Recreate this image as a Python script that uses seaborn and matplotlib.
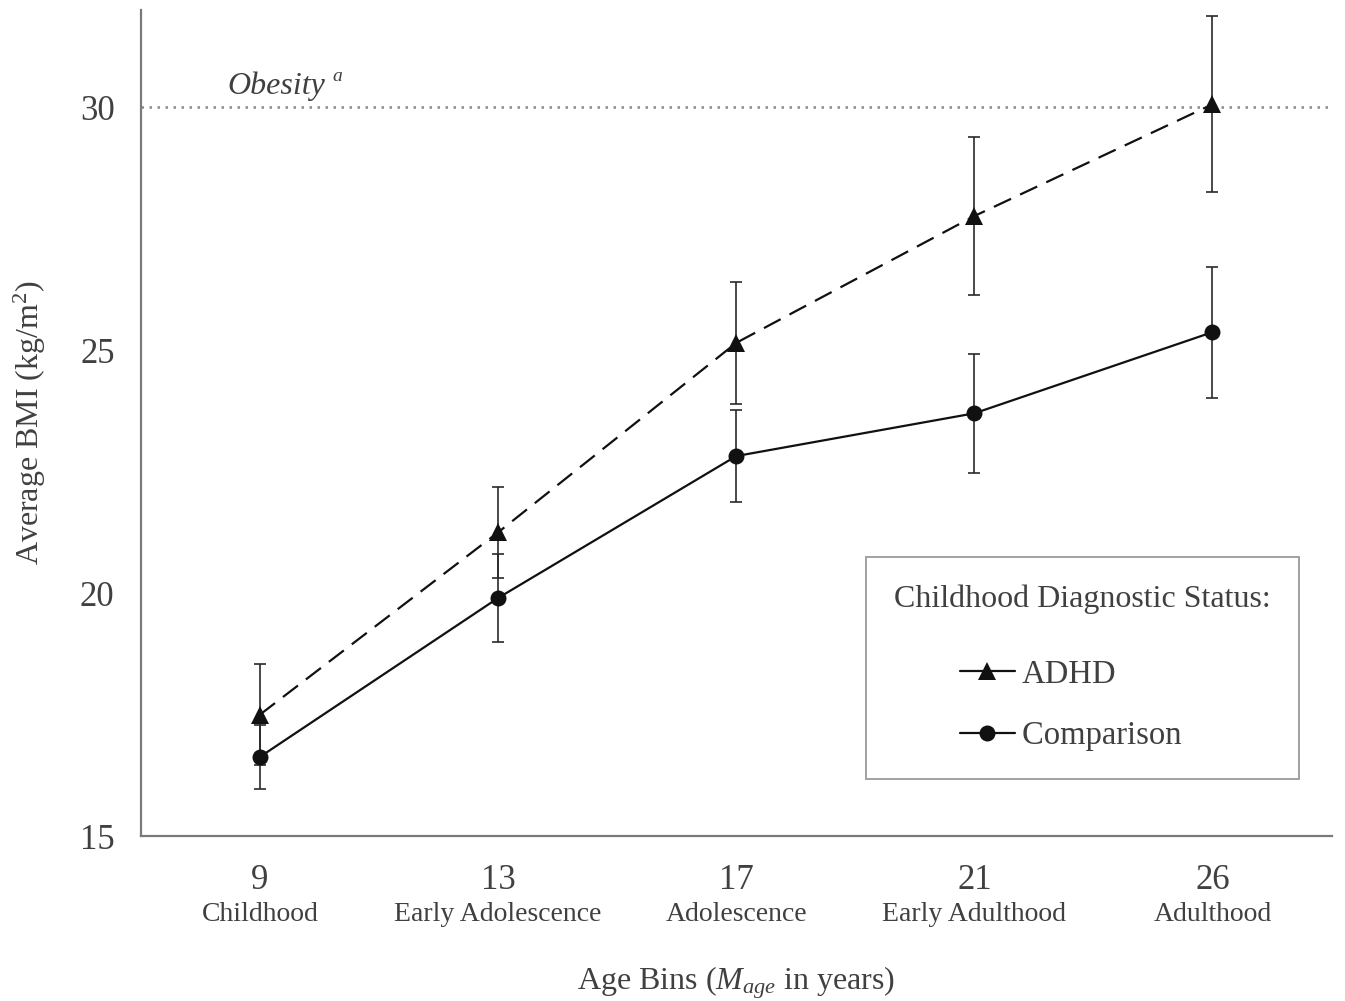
import numpy as np
import pandas as pd
import matplotlib
matplotlib.use('Agg')
import matplotlib.pyplot as plt
import matplotlib.transforms as mtransforms
from matplotlib.lines import Line2D
import seaborn as sns

# Data
ages = ['9', '13', '17', '21', '26']
stages = ['Childhood', 'Early Adolescence', 'Adolescence', 'Early Adulthood', 'Adulthood']
adhd_bmi = [17.5, 21.25, 25.15, 27.76, 30.06]
adhd_err = [1.04, 0.93, 1.26, 1.62, 1.81]
comp_bmi = [16.63, 19.9, 22.82, 23.7, 25.37]
comp_err = [0.66, 0.91, 0.94, 1.23, 1.35]
obesity_cut = 30

sns.set_theme(style='white')
plt.rcParams['font.family'] = ['Liberation Serif', 'DejaVu Serif']
plt.rcParams['mathtext.fontset'] = 'custom'
plt.rcParams['mathtext.rm'] = 'Liberation Serif'
plt.rcParams['mathtext.it'] = 'Liberation Serif:italic'

text_col = '#404040'
ink = '#111111'

df = pd.DataFrame({
    'pos': list(range(len(ages))) * 2,
    'bmi': adhd_bmi + comp_bmi,
    'err': adhd_err + comp_err,
    'group': ['ADHD'] * len(ages) + ['Comparison'] * len(ages),
})

fig = plt.figure(figsize=(13.45, 10.01), dpi=100)
ax = fig.add_axes([0.1048, 0.1648, 0.8852, 0.8252])

# obesity reference line + label
ax.axhline(obesity_cut, color='#8a8a8a', lw=1.8, ls=(0, (1, 2.2)), zorder=1)
ax.text(-0.135, obesity_cut + 0.12, 'Obesity', fontstyle='italic',
        fontsize=23, color=text_col, ha='left', va='bottom')
ax.text(0.305, obesity_cut + 0.45, 'a', fontstyle='italic',
        fontsize=14, color=text_col, ha='left', va='bottom')

# error bars
for g in ['ADHD', 'Comparison']:
    sub = df[df['group'] == g]
    ax.errorbar(sub['pos'], sub['bmi'], yerr=sub['err'], fmt='none',
                ecolor='#2a2a2a', elinewidth=1.2, capsize=4.3, capthick=1.2, zorder=2)

sns.lineplot(data=df, x='pos', y='bmi', hue='group', style='group',
             palette={'ADHD': ink, 'Comparison': ink},
             markers={'ADHD': '^', 'Comparison': 'o'},
             dashes={'ADHD': (8.5, 4.5), 'Comparison': ''},
             markersize=13, markeredgewidth=0, linewidth=1.6, ax=ax,
             legend=False, zorder=3)
for ln in ax.lines:
    if ln.get_marker() == 'o':
        ln.set_markersize(11.5)

ax.set_xlim(-0.5, 4.5)
ax.set_ylim(15, 32.0)
ax.set_yticks([15, 20, 25, 30])
ax.set_yticklabels(['15', '20', '25', '30'], fontsize=25, color=text_col)
ax.set_xticks(range(len(ages)))
ax.set_xticklabels(ages, fontsize=25, color=text_col)
ax.tick_params(axis='y', length=0, pad=19)
ax.tick_params(axis='x', length=0, pad=20)

trans = mtransforms.blended_transform_factory(ax.transData, ax.transAxes)
for i, s in enumerate(stages):
    ax.text(i, -0.080, s, transform=trans, ha='center', va='top',
            fontsize=20, color=text_col)

for side in ['top', 'right']:
    ax.spines[side].set_visible(False)
for side in ['left', 'bottom']:
    ax.spines[side].set_color('#7a7a7a')
    ax.spines[side].set_linewidth(1.6)

ax.set_xlabel('Age Bins ($M_{age}$ in years)', fontsize=23, color=text_col, labelpad=49)
ax.set_ylabel('Average BMI (kg/m$^2$)', fontsize=23, color=text_col, labelpad=23)

handles = [
    Line2D([], [], color=ink, lw=1.6, marker='^', markersize=13, markeredgewidth=0),
    Line2D([], [], color=ink, lw=1.6, marker='o', markersize=11.5, markeredgewidth=0),
]
leg = ax.legend(handles, ['ADHD', 'Comparison   '], title='Childhood Diagnostic Status:',
                loc='lower right', bbox_to_anchor=(0.9723, 0.069), borderaxespad=0,
                fontsize=23.5, title_fontsize=23, frameon=True, fancybox=False,
                handlelength=1.7, handletextpad=0.2, labelspacing=0.95, borderpad=0.85,
                labelcolor=text_col)
leg.get_title().set_color(text_col)
leg._legend_box.align = 'center'
leg._legend_box.sep = 0.95 * 23.5 + 10
frame = leg.get_frame()
frame.set_edgecolor('#8a8a8a')
frame.set_linewidth(1.4)

fig.savefig('out.png', dpi=100)
